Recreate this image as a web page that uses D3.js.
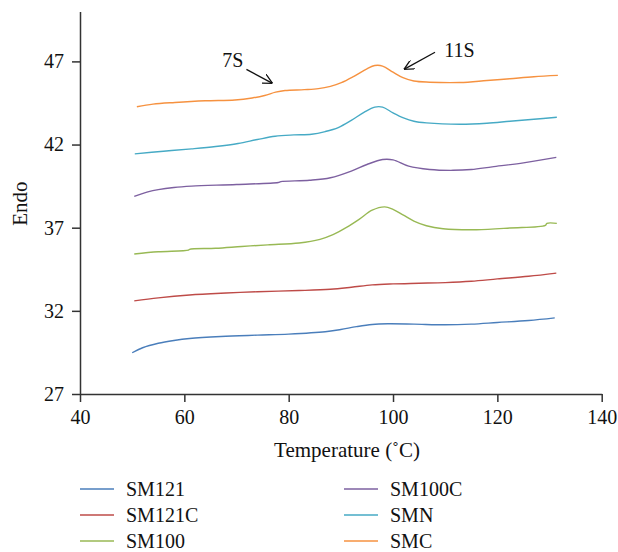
<!DOCTYPE html>
<html>
<head>
<meta charset="utf-8">
<script src="https://cdn.jsdelivr.net/npm/d3@7"></script>
<style>
  body { margin: 0; background: #fff; }
  svg text { font-family: "Liberation Serif", "DejaVu Serif", serif; fill: #111; }
</style>
</head>
<body>
<div id="chart"></div>
<script>
// series names, in legend order
var seriesNames = ['SM121', 'SM121C', 'SM100', 'SM100C', 'SMN', 'SMC']
var seriesColors = ['#4a7ebb', '#be4b48', '#98b954', '#7d60a0', '#46aac5', '#f69240']

// [temperature, endo]
var sm121 = [[50,29.48],[52,29.78],[55,30.05],[58,30.22],[61,30.34],[67,30.46],[74,30.54],[80,30.6],[87,30.74],[90,30.88],[93,31.05],[96,31.18],[99,31.22],[104,31.2],[110,31.16],[115,31.2],[120,31.3],[126,31.42],[131,31.58]]
var sm121c = [[50.4,32.6],[55,32.78],[61,32.95],[68,33.07],[74,33.15],[82,33.22],[88,33.3],[92,33.42],[96,33.56],[100,33.62],[105,33.66],[110,33.7],[115,33.78],[120,33.92],[126,34.08],[131.3,34.27]]
var sm100 = [[50.4,35.42],[55,35.55],[60.8,35.65],[61,35.7],[66,35.76],[71,35.87],[76,35.97],[82,36.08],[86,36.3],[88.5,36.58],[91,37.0],[93.5,37.5],[96,38.05],[98.4,38.25],[100,38.1],[102,37.75],[104,37.4],[106.4,37.12],[109.6,36.94],[116,36.88],[122.4,36.98],[129.2,37.14],[129.5,37.26],[131.4,37.26]]
var sm100c = [[50.4,38.88],[53,39.15],[55,39.29],[58,39.42],[61.4,39.5],[70,39.6],[78,39.72],[78.5,39.77],[84,39.85],[88,40.0],[92,40.4],[95,40.8],[98,41.1],[100,41.08],[103,40.7],[107,40.5],[111.5,40.45],[115,40.5],[119,40.66],[125,40.9],[131.3,41.23]]
var smn = [[50.5,41.44],[56,41.6],[61.4,41.74],[66,41.88],[70.3,42.06],[74,42.3],[77.4,42.5],[81,42.58],[84.4,42.62],[87,42.78],[89.5,43.02],[92,43.45],[94.5,43.95],[96.5,44.25],[98,44.25],[100,43.9],[102,43.6],[104,43.4],[106.4,43.3],[112.8,43.22],[118,43.28],[122.4,43.4],[127,43.52],[131.4,43.64]]
var smc = [[50.9,44.27],[54,44.43],[58.2,44.53],[64,44.63],[69.7,44.68],[73,44.8],[75.4,44.95],[77.5,45.15],[79.3,45.25],[83,45.3],[85.7,45.36],[88,45.5],[90.1,45.72],[92.5,46.1],[95,46.55],[96.5,46.75],[98,46.72],[100,46.35],[101.9,46.02],[104,45.82],[107,45.75],[112.8,45.73],[118,45.85],[122.4,45.96],[127,46.08],[131.6,46.16]]
var seriesValues = [sm121, sm121c, sm100, sm100c, smn, smc]

var xTicks = [40, 60, 80, 100, 120, 140]
var yTicks = [27, 32, 37, 42, 47]

// peak labels: text, text anchor point, arrow start, arrow end (data units)
var peakLabels = ['7S', '11S']
var peakText = [[69.3, 46.66], [109.8, 47.24]]
var peakArrows = [[[71.9, 46.52], [76.9, 45.68]], [[108.05, 47.55], [102.1, 46.52]]]

var width = 618, height = 552
var margin = {top: 11.5, right: 16.3, bottom: 158, left: 80}
var fontSize = 20

var svg = d3.select('#chart')
  .append('svg')
    .attr('width', width)
    .attr('height', height)

svg.append('defs')
  .append('marker')
    .attr('id', 'arrow')
    .attr('viewBox', '0 0 10 10')
    .attr('refX', 10)
    .attr('refY', 5)
    .attr('markerWidth', 10)
    .attr('markerHeight', 10)
    .attr('markerUnits', 'userSpaceOnUse')
    .attr('orient', 'auto')
  .append('path')
    .attr('d', 'M0,0 L10,5 L0,10')
    .attr('fill', 'none')
    .attr('stroke', '#111')
    .attr('stroke-width', 1.3)

var x = d3.scaleLinear()
  .domain([40, 140])
  .range([margin.left, width - margin.right])

var y = d3.scaleLinear()
  .domain([27, 50])
  .range([height - margin.bottom, margin.top])

var xAxis = d3.axisBottom(x)
  .tickValues(xTicks)
  .tickSize(8)
  .tickPadding(8)
  .tickSizeOuter(0)

var yAxis = d3.axisLeft(y)
  .tickValues(yTicks)
  .tickSize(8)
  .tickPadding(8)
  .tickSizeOuter(0)

var gx = svg.append('g')
  .attr('transform', 'translate(0,' + (height - margin.bottom) + ')')
  .call(xAxis)

var gy = svg.append('g')
  .attr('transform', 'translate(' + margin.left + ',0)')
  .call(yAxis)

svg.selectAll('.domain, .tick line')
  .attr('stroke', '#333')
  .attr('stroke-width', 1.5)
svg.selectAll('.tick text')
  .attr('font-size', fontSize)
  .attr('font-family', '"Liberation Serif", serif')
  .attr('fill', '#111')

// axis titles
svg.append('text')
  .attr('x', x(91.2))
  .attr('y', 457)
  .attr('text-anchor', 'middle')
  .attr('font-size', 21)
  .text('Temperature (\u02DAC)')

svg.append('text')
  .attr('transform', 'translate(27,' + y(38.45) + ') rotate(-90)')
  .attr('text-anchor', 'middle')
  .attr('font-size', 21)
  .text('Endo')

var line = d3.line()
  .x(d => x(d[0]))
  .y(d => y(d[1]))
  .curve(d3.curveCatmullRom.alpha(0.5))

svg.append('g')
  .selectAll('path.series')
  .data(seriesValues)
  .join('path')
    .attr('class', 'series')
    .attr('d', line)
    .attr('fill', 'none')
    .attr('stroke', (d, i) => seriesColors[i])
    .attr('stroke-width', 1.4)

// peak annotations
svg.append('g')
  .selectAll('line')
  .data(peakArrows)
  .join('line')
    .attr('x1', d => x(d[0][0]))
    .attr('y1', d => y(d[0][1]))
    .attr('x2', d => x(d[1][0]))
    .attr('y2', d => y(d[1][1]))
    .attr('stroke', '#111')
    .attr('stroke-width', 1.3)
    .attr('marker-end', 'url(#arrow)')

svg.append('g')
  .selectAll('text')
  .data(peakLabels)
  .join('text')
    .attr('x', (d, i) => x(peakText[i][0]))
    .attr('y', (d, i) => y(peakText[i][1]))
    .attr('text-anchor', (d, i) => i == 0 ? 'middle' : 'start')
    .attr('font-size', fontSize)
    .text(d => d)

// legend, two columns of three
var legend = svg.append('g')
  .selectAll('g')
  .data(seriesNames)
  .join('g')
    .attr('transform', (d, i) => 'translate(' + (i < 3 ? 80 : 344) + ',' + (489 + (i % 3) * 26) + ')')

legend.append('line')
  .attr('x1', 0)
  .attr('x2', 34)
  .attr('stroke', (d, i) => seriesColors[i])
  .attr('stroke-width', 1.6)

legend.append('text')
  .attr('x', 46)
  .attr('dy', '0.35em')
  .attr('font-size', fontSize)
  .text(d => d)
</script>
</body>
</html>
